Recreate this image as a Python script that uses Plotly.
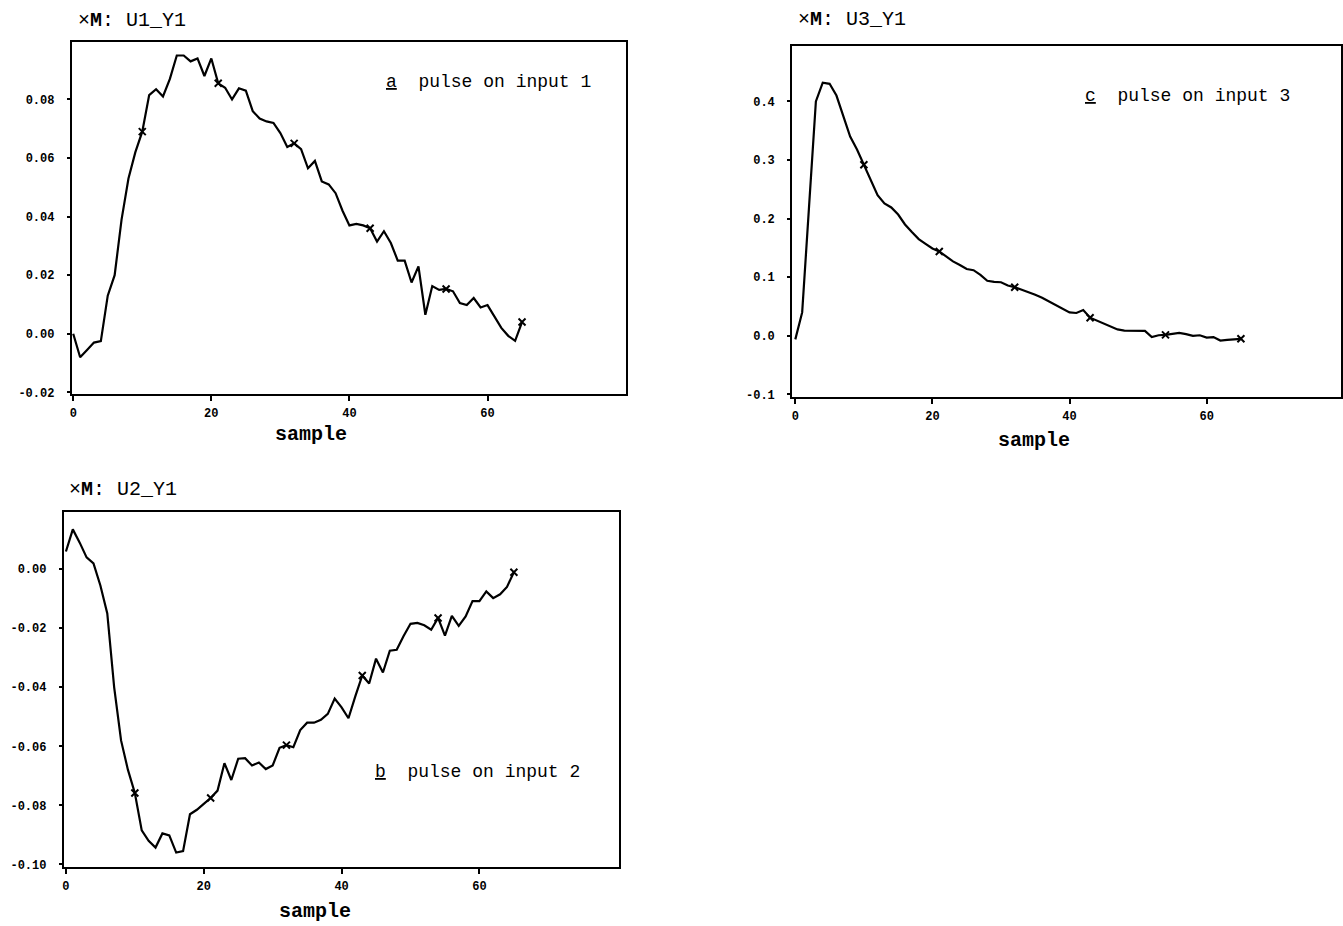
import plotly.graph_objects as go

W, H = 1343, 926

samples = list(range(66))

u1_y1 = [0.000, -0.008, -0.0055, -0.003, -0.0025, 0.013, 0.020, 0.039, 0.053, 0.062,
         0.069, 0.0815, 0.0835, 0.081, 0.087, 0.095, 0.095, 0.093, 0.094, 0.088,
         0.094, 0.0855, 0.084, 0.080, 0.0838, 0.083, 0.076, 0.0735, 0.0725, 0.072,
         0.0685, 0.0638, 0.065, 0.063, 0.0565, 0.059, 0.052, 0.051, 0.048, 0.042,
         0.037, 0.0375, 0.037, 0.036, 0.0315, 0.035, 0.031, 0.025, 0.025, 0.0175,
         0.023, 0.0065, 0.0163, 0.015, 0.0153, 0.0145, 0.0105, 0.0098, 0.0122, 0.009,
         0.0098, 0.006, 0.002, -0.0007, -0.0024, 0.004]

u2_y1 = [0.006, 0.0135, 0.009, 0.004, 0.002, -0.0055, -0.015, -0.040, -0.058, -0.068,
         -0.0758, -0.0885, -0.092, -0.0943, -0.0895, -0.0902, -0.096, -0.0955, -0.083, -0.0815,
         -0.0795, -0.0775, -0.075, -0.0657, -0.0714, -0.0642, -0.064, -0.0665, -0.0655, -0.0677,
         -0.0665, -0.0605, -0.0596, -0.0603, -0.0545, -0.052, -0.052, -0.051, -0.049, -0.0438,
         -0.0468, -0.0505, -0.043, -0.036, -0.0387, -0.0303, -0.035, -0.0276, -0.0273, -0.0226,
         -0.0185, -0.0182, -0.019, -0.0205, -0.0165, -0.0225, -0.0158, -0.0192, -0.016, -0.0108,
         -0.0108, -0.0075, -0.0098, -0.0085, -0.006, -0.001]

u3_y1 = [-0.006, 0.04, 0.22, 0.40, 0.432, 0.430, 0.41, 0.375, 0.34, 0.318,
         0.292, 0.265, 0.24, 0.226, 0.219, 0.207, 0.19, 0.177, 0.165, 0.157,
         0.149, 0.144, 0.135, 0.127, 0.121, 0.114, 0.112, 0.104, 0.094, 0.092,
         0.0915, 0.086, 0.083, 0.079, 0.075, 0.07, 0.065, 0.059, 0.052, 0.046,
         0.04, 0.039, 0.044, 0.031, 0.026, 0.022, 0.016, 0.011, 0.009, 0.0085,
         0.0085, 0.0085, -0.002, 0.001, 0.0017, 0.003, 0.005, 0.003, 0.0, 0.001,
         -0.003, -0.002, -0.008, -0.007, -0.006, -0.005]

marker_idx = [10, 21, 32, 43, 54, 65]

x_tickvals = [0, 20, 40, 60]
x_ticktext = ["0", "20", "40", "60"]

ya_tickvals = [-0.02, 0.0, 0.02, 0.04, 0.06, 0.08]
ya_ticktext = ["-0.02", "0.00", "0.02", "0.04", "0.06", "0.08"]
yb_tickvals = [-0.10, -0.08, -0.06, -0.04, -0.02, 0.0]
yb_ticktext = ["-0.10", "-0.08", "-0.06", "-0.04", "-0.02", "0.00"]
yc_tickvals = [-0.1, 0.0, 0.1, 0.2, 0.3, 0.4]
yc_ticktext = ["-0.1", "0.0", "0.1", "0.2", "0.3", "0.4"]

titles = ["\u00d7<b>M</b>: U1_Y1", "\u00d7<b>M</b>: U3_Y1", "\u00d7<b>M</b>: U2_Y1"]
notes = [("a", "pulse on input 1"), ("c", "pulse on input 3"), ("b", "pulse on input 2")]
x_title = "sample"

# layout (pixel boxes: left, top, right, bottom)
panels = [
    dict(data=u1_y1, box=(70, 42, 625, 397), xr=[-0.2, 80.0], yr=[-0.0207, 0.0997],
         yt=(ya_tickvals, ya_ticktext), title_xy=(74, 21), note_xy=(45.0, 0.086),
         xlabel_xy=(310, 437)),
    dict(data=u3_y1, box=(792, 46, 1342, 400), xr=[-0.45, 79.6], yr=[-0.105, 0.495],
         yt=(yc_tickvals, yc_ticktext), title_xy=(796, 20), note_xy=(41.9, 0.41),
         xlabel_xy=(1034, 443)),
    dict(data=u2_y1, box=(62, 515, 618, 873), xr=[-0.3, 80.2], yr=[-0.101, 0.0195],
         yt=(yb_tickvals, yb_ticktext), title_xy=(65, 493), note_xy=(44.6, -0.0687),
         xlabel_xy=(314, 917)),
]

fig = go.Figure()
layout = dict(width=W, height=H, margin=dict(l=0, r=0, t=0, b=0),
              paper_bgcolor="white", plot_bgcolor="white", showlegend=False)
annotations = []

tick_font = dict(family="Liberation Mono", size=12, color="black", weight="bold")

for k, p in enumerate(panels):
    n = "" if k == 0 else str(k + 1)
    xa, ya = "x" + n, "y" + n
    l, t, r, b = p["box"]
    layout["xaxis" + n] = dict(
        domain=[l / W, r / W], range=p["xr"], anchor=ya,
        showline=True, mirror=True, linecolor="black", linewidth=2,
        showgrid=False, zeroline=False,
        ticks="outside", ticklen=5, tickwidth=2, tickcolor="black",
        tickvals=x_tickvals, ticktext=x_ticktext, tickfont=tick_font,
        ticklabelstandoff=1,
    )
    layout["yaxis" + n] = dict(
        domain=[1 - b / H, 1 - t / H], range=p["yr"], anchor=xa,
        showline=True, mirror=True, linecolor="black", linewidth=2,
        showgrid=False, zeroline=False,
        ticks="outside", ticklen=3, tickwidth=2, tickcolor="black",
        tickvals=p["yt"][0], ticktext=p["yt"][1], tickfont=tick_font,
        ticklabelstandoff=10,
    )
    fig.add_trace(go.Scatter(x=samples, y=p["data"], mode="lines", xaxis=xa, yaxis=ya,
                             line=dict(color="black", width=2.2), hoverinfo="skip"))
    fig.add_trace(go.Scatter(x=[samples[i] for i in marker_idx],
                             y=[p["data"][i] for i in marker_idx],
                             mode="markers", xaxis=xa, yaxis=ya,
                             marker=dict(symbol="x-thin", size=7, color="black",
                                         line=dict(color="black", width=2)),
                             hoverinfo="skip"))
    tx, ty = p["title_xy"]
    annotations.append(dict(xref="paper", yref="paper", x=tx / W, y=1 - ty / H,
                            xanchor="left", yanchor="middle", showarrow=False,
                            text=titles[k],
                            font=dict(family="Liberation Mono", size=20, color="black")))
    letter, rest = notes[k]
    nx, ny = p["note_xy"]
    annotations.append(dict(xref=xa, yref=ya, x=nx, y=ny, xanchor="left", yanchor="middle",
                            showarrow=False, text="<u>" + letter + "</u>  " + rest,
                            font=dict(family="Liberation Mono", size=18, color="black")))
    lx, ly = p["xlabel_xy"]
    annotations.append(dict(xref="paper", yref="paper", x=lx / W, y=1 - ly / H,
                            xanchor="center", yanchor="middle", showarrow=False,
                            text=x_title,
                            font=dict(family="Liberation Mono", size=20, color="black",
                                      weight="bold")))

layout["annotations"] = annotations
fig.update_layout(**layout)
fig.write_html("out.html")
